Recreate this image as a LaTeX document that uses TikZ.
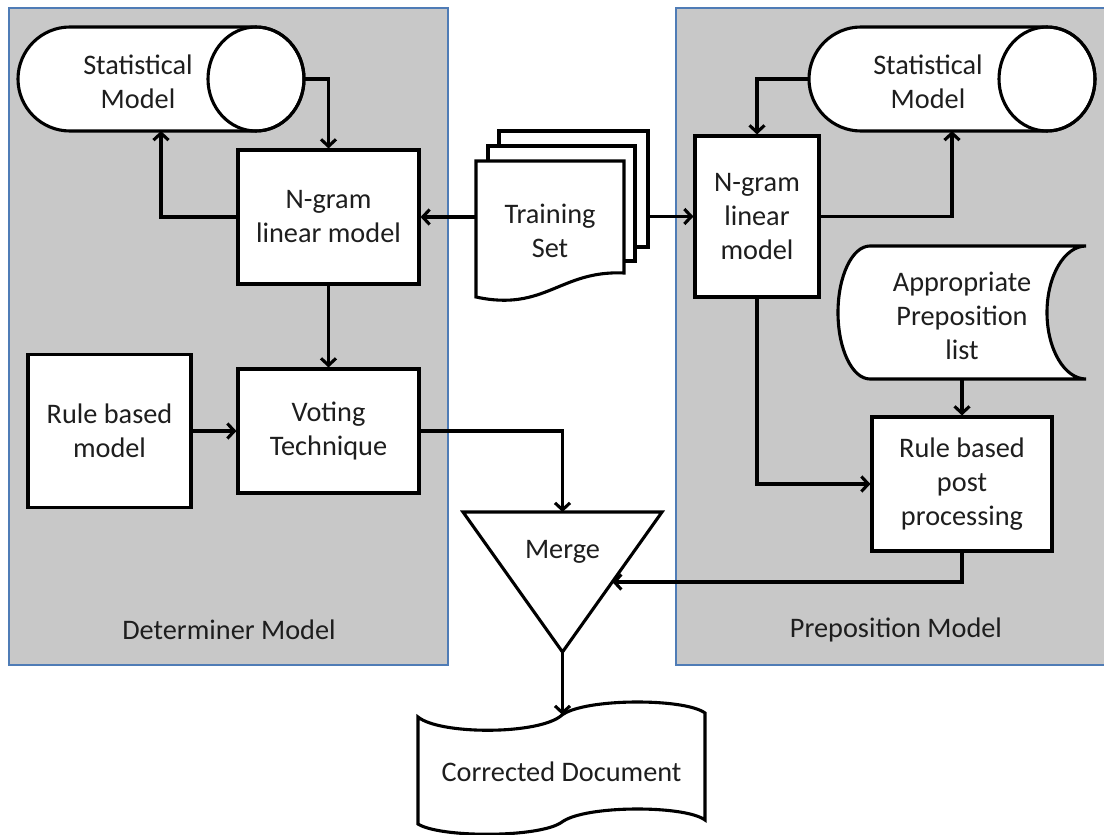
\documentclass[tikz,border=0pt]{standalone}
\usepackage{fontspec}
\setmainfont{Carlito}
\usetikzlibrary{arrows.meta,calc}
\definecolor{panelfill}{RGB}{200,200,200}
\definecolor{panelline}{RGB}{79,124,182}
\definecolor{txt}{RGB}{30,30,30}
\begin{document}
\begin{tikzpicture}[x=1pt,y=-1pt,
  font=\fontsize{28.3}{34}\selectfont,
  every node/.style={text=txt, align=center, inner sep=0pt, outer sep=0pt},
  ln/.style={line width=3.1pt, draw=black},
  shp/.style={line width=3.1pt, draw=black, fill=white},
  arr/.style={line width=3.1pt, draw=black, -{Straight Barb[length=7pt,width=15pt]}},
  box/.style={rectangle, draw=black, line width=3.1pt, fill=white, outer sep=1.55pt},
  ghost/.style={rectangle, draw=none},
  panel/.style={draw=panelline, line width=2.4pt, fill=panelfill}]
\useasboundingbox (0,0) rectangle (1104,835);
\clip (0,0) rectangle (1104,835);

% panels
\draw[panel] (9,8) rectangle (448,665);
\draw[panel] (676,8) rectangle (1112,665);
\node (dl) at (229,630) {Determiner Model};
\node (pl) at (896,630) {Preposition Model};

% left statistical model (cylinder)
\node[ghost, minimum width=286pt, minimum height=104pt] (sm1) at (161,79) {};
\draw[shp] ([xshift=52pt]sm1.north west) -- ([xshift=-48pt]sm1.north east)
  arc[start angle=90,end angle=-90,x radius=48pt,y radius=52pt]
  -- ([xshift=52pt]sm1.south west)
  arc[start angle=270,end angle=90,radius=52pt] -- cycle;
\draw[ln] ([xshift=-48pt]sm1.east) ellipse[x radius=48pt, y radius=52pt];
\node (sm1t) at ([xshift=-23pt,yshift=-3pt]sm1.center) {Statistical\\Model};

% right statistical model (cylinder)
\node[ghost, minimum width=286pt, minimum height=104pt] (sm2) at (952,79) {};
\draw[shp] ([xshift=52pt]sm2.north west) -- ([xshift=-48pt]sm2.north east)
  arc[start angle=90,end angle=-90,x radius=48pt,y radius=52pt]
  -- ([xshift=52pt]sm2.south west)
  arc[start angle=270,end angle=90,radius=52pt] -- cycle;
\draw[ln] ([xshift=-48pt]sm2.east) ellipse[x radius=48pt, y radius=52pt];
\node (sm2t) at ([xshift=-24pt,yshift=-3pt]sm2.center) {Statistical\\Model};

% boxes
\node[box, minimum width=181pt, minimum height=134pt] (ng1) at (328.5,217) {N-gram\\linear model};
\node[box, minimum width=181pt, minimum height=124pt] (vt) at (328.5,431) {Voting\\Technique};
\node[box, minimum width=163pt, minimum height=153pt] (rb) at (109.5,431) {Rule based\\model};
\node[box, minimum width=124pt, minimum height=161pt] (ng2) at (757,216.5) {N-gram\\linear\\model};
\node[box, minimum width=180pt, minimum height=134pt] (rp) at (962,484) {Rule based\\post\\processing};

% appropriate preposition list (stored data)
\node[ghost, minimum width=248pt, minimum height=133pt] (app) at (962,312.5) {};
\draw[shp] ([xshift=32pt]app.north west) -- (app.north east)
  arc[start angle=90,end angle=270,x radius=39pt,y radius=66.5pt]
  -- ([xshift=32pt]app.south west)
  arc[start angle=270,end angle=90,x radius=32pt,y radius=66.5pt] -- cycle;
\node (appt) at ([yshift=-3pt]app.center) {Appropriate\\Preposition\\list};

% training set (multiple documents)
\node[box, minimum width=149pt, minimum height=116pt] (ts3) at (573.5,189) {};
\node[box, minimum width=147pt, minimum height=115pt] (ts2) at (561.5,203.5) {};
\node[ghost, minimum width=148pt, minimum height=142pt] (ts) at (550,232) {};
\draw[shp] (476,297) -- (476,161) -- (624,161) -- (624,273)
  .. controls (560,270) and (545,312) .. (476,297) -- cycle;
\node (tst) at (550,231) {Training\\Set};

% merge (triangle)
\node[ghost, minimum width=199pt, minimum height=140pt] (mg) at (562.5,582) {};
\draw[shp] (mg.north west) -- (mg.north east) -- (mg.south) -- cycle;
\node (mgt) at ([yshift=30pt]mg.center) {Merge};
\coordinate (mgr) at ($(mg.north east)!0.5!(mg.south)$);

% corrected document
\node[ghost, minimum width=287pt, minimum height=130pt] (cd) at (561.5,768) {};
\draw[shp] (418,717) .. controls (440,735) and (540,735) .. (562,715)
  .. controls (585,698) and (685,698) .. (705,713) -- (705,820)
  .. controls (685,805) and (585,805) .. (562,822)
  .. controls (540,838) and (440,838) .. (418,824) -- cycle;
\coordinate (cdtop) at (562,715);
\node (cdt) at (561.5,772) {Corrected Document};

% connectors
\draw[arr] (sm1.east) -| (ng1.north);
\draw[arr] (ng1.west) -| (sm1.south);
\draw[arr] (ng1.south) -- (vt.north);
\draw[arr] (rb.east) -- (vt.west);
\draw[arr] (vt.east) -| (mg.north);
\draw[arr] (ng1.east -| ts.west) -- (ng1.east);
\draw[arr] (ng2.west -| ts3.east) -- (ng2.west);
\draw[arr] (sm2.west) -| (ng2.north);
\draw[arr] (ng2.east) -| (sm2.south);
\draw[arr] (app.south) -- (rp.north);
\draw[arr] (ng2.south) |- (rp.west);
\draw[arr] (rp.south) |- (mgr);
\draw[arr] (mg.south) -- (mg.south |- cdtop);
\end{tikzpicture}
\end{document}
